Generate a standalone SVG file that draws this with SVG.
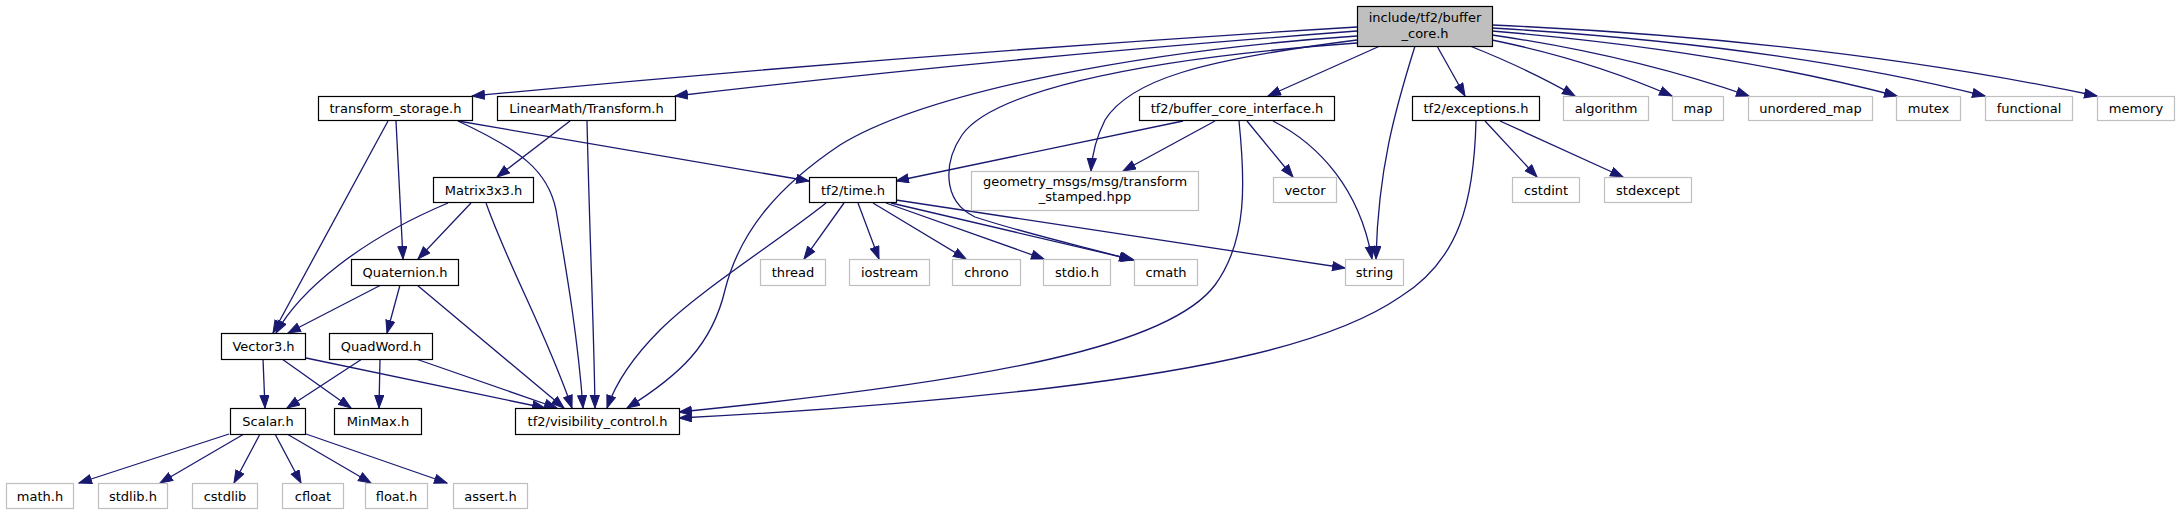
<svg xmlns="http://www.w3.org/2000/svg" width="2179" height="515" viewBox="0 0 2179 515">
<style>
.n rect{fill:#fff;stroke:#000;stroke-width:1.2}
.x rect{fill:#fff;stroke:#bfbfbf;stroke-width:1.2}
.r rect{fill:#bfbfbf;stroke:#000;stroke-width:1.2}
text{font-family:"DejaVu Sans",sans-serif;font-size:13px;text-anchor:middle;fill:#000}
#edges path{fill:none;stroke:#191970;stroke-width:1.3;marker-end:url(#ah)}
</style>
<defs>
<marker id="ah" markerUnits="userSpaceOnUse" markerWidth="14" markerHeight="11" refX="13" refY="5" orient="auto"><path d="M0.5,0.5 L13,5 L0.5,9.5 z" fill="#191970" stroke="#191970" stroke-width="1"/></marker>
</defs>
<rect width="2179" height="515" fill="#fff"/>
<g id="edges">
<path d="M1357,27 Q900,55 472,96"/>
<path d="M1357,31 Q1000,58 675,96"/>
<path d="M1357,36 C1150,50 930,90 840,145 C780,185 740,230 725,290 C712,345 680,375 627,408"/>
<path d="M1357,40 C1200,60 1130,80 1105,120 C1095,140 1092,155 1091,171"/>
<path d="M1357,43 C1120,60 990,95 962,135 C945,160 940,200 975,217 C1030,235 1090,248 1132,260"/>
<path d="M1380,46 L1268,96"/>
<path d="M1415,46 C1395,110 1378,170 1376,259"/>
<path d="M1437,46 L1465,96"/>
<path d="M1470,46 Q1530,70 1575,96"/>
<path d="M1492,40 Q1590,60 1672,96"/>
<path d="M1492,35 Q1630,55 1749,96"/>
<path d="M1492,31 Q1720,50 1897,96"/>
<path d="M1492,28 Q1780,45 1985,96"/>
<path d="M1492,25 Q1830,40 2097,96"/>
<path d="M1183,121 L896,181"/>
<path d="M1215,121 L1123,171"/>
<path d="M1247,121 L1293,177"/>
<path d="M1273,121 C1320,145 1360,190 1372,259"/>
<path d="M1239,121 C1245,180 1248,240 1215,285 C1170,345 1000,380 679,412"/>
<path d="M1476,121 C1474,200 1460,260 1400,297 C1330,345 1200,370 1050,388 C900,405 780,413 679,418"/>
<path d="M1485,121 L1537,177"/>
<path d="M1500,121 L1623,177"/>
<path d="M458,121 L809,181"/>
<path d="M388,121 L273,333"/>
<path d="M396,121 L403,259"/>
<path d="M458,121 C520,150 548,170 556,210 C568,280 578,340 583,408"/>
<path d="M587,121 C590,250 594,330 595,408"/>
<path d="M570,121 L497,177"/>
<path d="M448,203 C360,240 300,290 276,333"/>
<path d="M471,203 L418,259"/>
<path d="M486,203 C510,270 545,330 572,408"/>
<path d="M417,285 L564,408"/>
<path d="M381,285 L288,333"/>
<path d="M400,285 L387,333"/>
<path d="M306,358 L545,408"/>
<path d="M416,359 L557,408"/>
<path d="M263,359 L265,408"/>
<path d="M282,359 L351,408"/>
<path d="M362,359 L287,408"/>
<path d="M380,359 L379,408"/>
<path d="M229,434 L79,483"/>
<path d="M244,434 L160,483"/>
<path d="M260,434 L234,483"/>
<path d="M275,434 L301,483"/>
<path d="M287,434 L371,483"/>
<path d="M306,434 L447,483"/>
<path d="M844,203 L804,259"/>
<path d="M858,203 L879,259"/>
<path d="M873,203 L966,259"/>
<path d="M886,203 L1044,259"/>
<path d="M891,203 L1134,260"/>
<path d="M896,200 L1345,268"/>
<path d="M826,203 C780,240 700,290 660,330 C630,360 615,385 607,408"/>
</g>
<g id="n_root" class="r"><rect x="1357.5" y="6.5" width="135" height="40"/><text x="1425" y="21.5">include/tf2/buffer</text><text x="1425" y="37.5">_core.h</text></g>
<g id="n_transform_storage" class="n"><rect x="318.5" y="96.5" width="154" height="24"/><text x="395.5" y="113">transform_storage.h</text></g>
<g id="n_linearmath" class="n"><rect x="497.5" y="96.5" width="178" height="24"/><text x="586.5" y="113">LinearMath/Transform.h</text></g>
<g id="n_bci" class="n"><rect x="1139.5" y="96.5" width="195" height="24"/><text x="1237" y="113">tf2/buffer_core_interface.h</text></g>
<g id="n_exceptions" class="n"><rect x="1412.5" y="96.5" width="127" height="24"/><text x="1476" y="113">tf2/exceptions.h</text></g>
<g id="n_algorithm" class="x"><rect x="1563.5" y="96.5" width="85" height="24"/><text x="1606" y="113">algorithm</text></g>
<g id="n_map" class="x"><rect x="1672.5" y="96.5" width="51" height="24"/><text x="1698" y="113">map</text></g>
<g id="n_unordered_map" class="x"><rect x="1748.5" y="96.5" width="124" height="24"/><text x="1810.5" y="113">unordered_map</text></g>
<g id="n_mutex" class="x"><rect x="1896.5" y="96.5" width="64" height="24"/><text x="1928.5" y="113">mutex</text></g>
<g id="n_functional" class="x"><rect x="1985.5" y="96.5" width="87" height="24"/><text x="2029" y="113">functional</text></g>
<g id="n_memory" class="x"><rect x="2097.5" y="96.5" width="77" height="24"/><text x="2136" y="113">memory</text></g>
<g id="n_matrix3x3" class="n"><rect x="433.5" y="177.5" width="100" height="25"/><text x="483.5" y="194.5">Matrix3x3.h</text></g>
<g id="n_time" class="n"><rect x="809.5" y="177.5" width="87" height="25"/><text x="853" y="194.5">tf2/time.h</text></g>
<g id="n_geometry" class="x"><rect x="971.5" y="171.5" width="227" height="39"/><text x="1085" y="186">geometry_msgs/msg/transform</text><text x="1085" y="201">_stamped.hpp</text></g>
<g id="n_vector" class="x"><rect x="1273.5" y="177.5" width="63" height="25"/><text x="1305" y="194.5">vector</text></g>
<g id="n_cstdint" class="x"><rect x="1512.5" y="177.5" width="67" height="25"/><text x="1546" y="194.5">cstdint</text></g>
<g id="n_stdexcept" class="x"><rect x="1604.5" y="177.5" width="87" height="25"/><text x="1648" y="194.5">stdexcept</text></g>
<g id="n_quaternion" class="n"><rect x="351.5" y="259.5" width="107" height="26"/><text x="405" y="277">Quaternion.h</text></g>
<g id="n_thread" class="x"><rect x="760.5" y="259.5" width="65" height="26"/><text x="793" y="277">thread</text></g>
<g id="n_iostream" class="x"><rect x="849.5" y="259.5" width="80" height="26"/><text x="889.5" y="277">iostream</text></g>
<g id="n_chrono" class="x"><rect x="952.5" y="259.5" width="68" height="26"/><text x="986.5" y="277">chrono</text></g>
<g id="n_stdio" class="x"><rect x="1043.5" y="259.5" width="67" height="26"/><text x="1077" y="277">stdio.h</text></g>
<g id="n_cmath" class="x"><rect x="1134.5" y="259.5" width="63" height="26"/><text x="1166" y="277">cmath</text></g>
<g id="n_string" class="x"><rect x="1345.5" y="259.5" width="58" height="26"/><text x="1374.5" y="277">string</text></g>
<g id="n_vector3" class="n"><rect x="221.5" y="333.5" width="84" height="26"/><text x="263.5" y="351">Vector3.h</text></g>
<g id="n_quadword" class="n"><rect x="329.5" y="333.5" width="103" height="26"/><text x="381" y="351">QuadWord.h</text></g>
<g id="n_scalar" class="n"><rect x="230.5" y="408.5" width="75" height="26"/><text x="268" y="426">Scalar.h</text></g>
<g id="n_minmax" class="n"><rect x="334.5" y="408.5" width="87" height="26"/><text x="378" y="426">MinMax.h</text></g>
<g id="n_visibility" class="n"><rect x="515.5" y="408.5" width="164" height="26"/><text x="597.5" y="426">tf2/visibility_control.h</text></g>
<g id="n_math" class="x"><rect x="6.5" y="483.5" width="67" height="25"/><text x="40" y="500.5">math.h</text></g>
<g id="n_stdlib" class="x"><rect x="98.5" y="483.5" width="69" height="25"/><text x="133" y="500.5">stdlib.h</text></g>
<g id="n_cstdlib" class="x"><rect x="192.5" y="483.5" width="65" height="25"/><text x="225" y="500.5">cstdlib</text></g>
<g id="n_cfloat" class="x"><rect x="282.5" y="483.5" width="61" height="25"/><text x="313" y="500.5">cfloat</text></g>
<g id="n_float" class="x"><rect x="365.5" y="483.5" width="62" height="25"/><text x="396.5" y="500.5">float.h</text></g>
<g id="n_assert" class="x"><rect x="453.5" y="483.5" width="74" height="25"/><text x="490.5" y="500.5">assert.h</text></g>
</svg>
